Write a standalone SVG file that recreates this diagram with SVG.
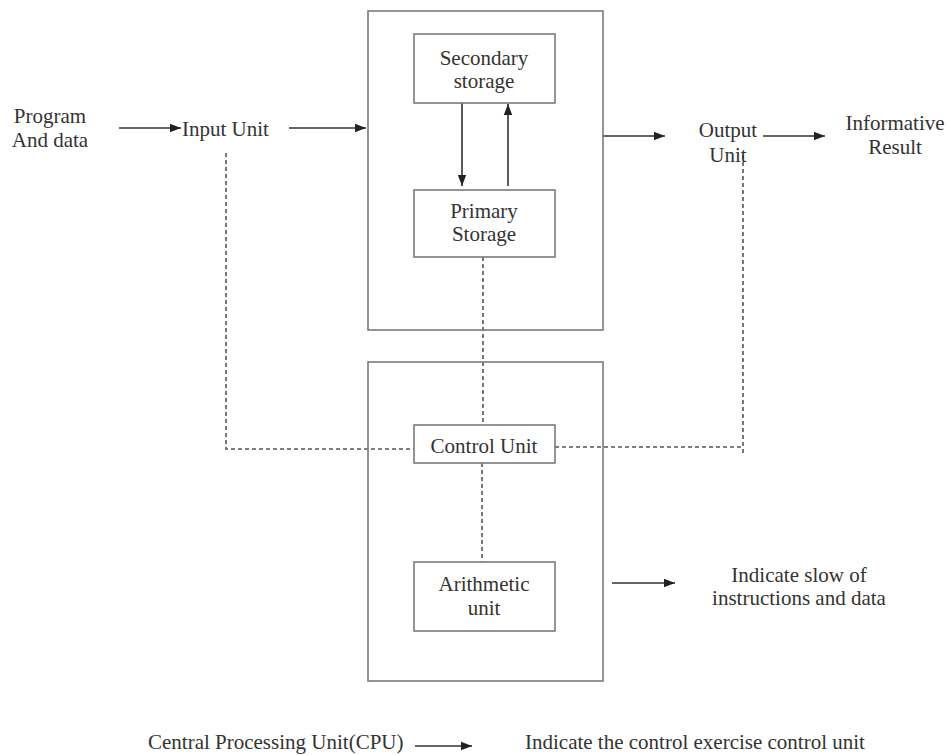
<svg xmlns="http://www.w3.org/2000/svg" width="949" height="755" viewBox="0 0 949 755">
<style>
.t{font-family:"Liberation Serif","Times New Roman",Times,"DejaVu Serif",serif;font-size:21px;fill:#333;}
.m{text-anchor:middle;}
.box{fill:none;stroke:#7a7a7a;stroke-width:1.6;}
.arr{stroke:#333;stroke-width:1.6;fill:none;marker-end:url(#ah);}
.dash{stroke:#555;stroke-width:1.6;fill:none;stroke-dasharray:4 3;}
</style>
<defs>
<marker id="ah" markerUnits="userSpaceOnUse" markerWidth="12" markerHeight="10" refX="11" refY="5" orient="auto">
<path d="M0,0.8 L11,5 L0,9.2 Z" fill="#222"/>
</marker>
</defs>
<rect width="949" height="755" fill="#fff"/>
<g id="connectors">
<line class="arr" x1="119" y1="128" x2="181" y2="128"/>
<line class="arr" x1="289" y1="128" x2="366" y2="128"/>
<line class="arr" x1="462" y1="103" x2="462" y2="186"/>
<line class="arr" x1="508" y1="186" x2="508" y2="104"/>
<line class="arr" x1="603" y1="136" x2="665" y2="136"/>
<line class="arr" x1="763" y1="136" x2="825" y2="136"/>
<line class="arr" x1="612" y1="583" x2="675" y2="583"/>
<line class="arr" x1="415" y1="746" x2="472" y2="746"/>
<polyline class="dash" points="226,153 226,449 414,449"/>
<polyline class="dash" points="555,447 743,447"/>
<polyline class="dash" points="743,155 743,455"/>
<line class="dash" x1="483" y1="257" x2="483" y2="425"/>
<line class="dash" x1="482" y1="463" x2="482" y2="562"/>
</g>
<g id="program-data">
<text class="t m" x="50" y="123">Program</text>
<text class="t m" x="50" y="147">And data</text>
</g>
<g id="input-unit">
<text class="t" x="182" y="136">Input Unit</text>
</g>
<g id="memory-unit">
<rect class="box" x="368" y="11" width="235" height="319"/>
</g>
<g id="secondary-storage">
<rect class="box" x="414" y="34" width="141" height="69"/>
<text class="t m" x="484" y="65">Secondary</text>
<text class="t m" x="484" y="88">storage</text>
</g>
<g id="primary-storage">
<rect class="box" x="414" y="190" width="141" height="67"/>
<text class="t m" x="484" y="218">Primary</text>
<text class="t m" x="484" y="241">Storage</text>
</g>
<g id="output-unit">
<text class="t m" x="728" y="137">Output</text>
<text class="t m" x="728" y="162">Unit</text>
</g>
<g id="informative-result">
<text class="t m" x="895" y="130">Informative</text>
<text class="t m" x="895" y="154">Result</text>
</g>
<g id="cpu">
<rect class="box" x="368" y="362" width="235" height="319"/>
</g>
<g id="control-unit">
<rect class="box" x="414" y="425" width="141" height="38"/>
<text class="t m" x="484" y="453">Control Unit</text>
</g>
<g id="arithmetic-unit">
<rect class="box" x="414" y="562" width="141" height="69"/>
<text class="t m" x="484" y="591">Arithmetic</text>
<text class="t m" x="484" y="615">unit</text>
</g>
<g id="legend-flow">
<text class="t m" x="799" y="582">Indicate slow of</text>
<text class="t m" x="799" y="605">instructions and data</text>
</g>
<g id="legend-cpu">
<text class="t" x="148" y="749">Central Processing Unit(CPU)</text>
</g>
<g id="legend-control">
<text class="t" x="525" y="749">Indicate the control exercise control unit</text>
</g>
</svg>
